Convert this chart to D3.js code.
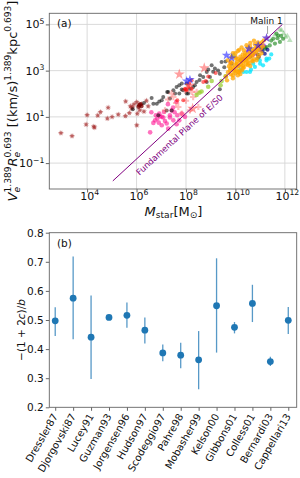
<!DOCTYPE html>
<html><head><meta charset="utf-8">
<script src="https://cdn.jsdelivr.net/npm/d3@7"></script>
<style>html,body{margin:0;padding:0;background:#fff;}svg{display:block;}</style>
</head><body>
<script>
// ---------------- DATA (log10 values for panel a) ----------------
const xTickExp = [4, 6, 8, 10, 12];
const yTickExp = [-1, 1, 3, 5];
const brownStars = [[2.94,0.30],[3.39,0.17],[3.96,0.67],[4.30,0.54],[4.27,0.58],[4.00,1.08],[4.43,1.06],[4.54,1.21],[4.82,0.93],[4.85,1.40],[5.01,1.00],[5.26,1.10],[5.55,1.04],[5.56,1.67],[5.71,1.17],[5.75,1.46],[5.81,1.36],[6.01,1.64],[6.03,1.14],[6.01,0.64],[6.13,1.29],[6.30,1.23],[5.83,1.43],[6.47,1.46],[6.20,1.55],[6.40,1.70],[5.90,1.55]];
const darkRedDots = [[6.11,1.50],[6.15,1.55],[6.20,1.47],[6.08,1.44]];
const pinkDots = [[6.78,1.07],[6.84,0.93],[6.95,1.03],[7.08,0.97],[7.15,0.82],[7.22,0.71],[6.90,0.75],[6.68,0.74],[6.55,0.33],[7.35,1.07],[7.49,0.85],[7.65,1.07],[7.83,1.14],[7.11,1.21],[7.42,1.28],[6.75,0.85],[7.02,0.64],[7.28,0.49],[7.62,0.68],[6.92,1.14],[7.73,0.85],[7.96,1.00],[7.27,1.55],[7.61,1.65],[7.48,1.40],[7.54,1.20],[6.60,1.20],[7.02,1.00],[7.35,0.97]];
const blackDots = [[5.85,1.33],[6.61,1.82],[6.68,1.57],[6.92,1.67],[7.08,1.86],[7.24,2.08],[7.49,2.15],[7.62,2.29],[7.73,2.37],[7.83,2.44],[7.89,2.15],[8.03,2.44],[8.09,2.01],[8.16,2.22],[6.88,1.07],[7.22,1.28],[8.36,2.37],[7.73,2.01],[7.28,2.08],[7.56,2.01],[7.83,2.18],[8.57,2.80],[8.84,2.94],[8.97,2.72],[9.17,3.09],[9.30,3.01],[9.37,2.87],[9.44,3.37],[9.04,3.23],[8.70,2.72],[8.43,2.51],[8.29,2.29],[8.03,2.01],[7.35,1.79],[7.02,1.72],[6.82,1.57],[7.42,1.28],[8.84,2.51],[6.30,1.60],[9.55,3.15],[9.10,2.95],[8.90,3.05],[9.60,3.40],[9.85,3.30],[10.20,3.45],[10.60,3.60],[10.90,3.70],[11.20,4.00],[9.37,2.20],[8.55,2.60]];
const redDots = [[7.96,2.22],[8.00,2.18],[8.70,2.51],[8.80,2.55],[8.13,2.44],[7.89,1.72],[7.65,1.72],[8.23,2.58],[8.03,2.15],[8.09,2.29],[8.23,2.22],[9.80,3.35],[10.40,3.55],[10.70,3.65],[10.90,3.55],[8.90,2.75],[9.20,2.90]];
const redCrosses = [[8.29,1.86],[8.43,2.08],[7.69,1.43],[7.15,1.28],[8.16,1.28],[7.83,1.14],[7.42,2.01],[7.49,1.86],[7.28,1.75],[7.96,2.15],[8.23,2.08],[8.50,1.43],[7.60,1.60],[8.00,1.70]];
const yellowGreenDots = [[8.43,1.95],[8.55,2.05],[8.63,2.10],[9.04,2.55],[9.40,2.37],[9.44,2.55],[8.90,2.30],[9.60,2.75]];
const salmonStars = [[7.73,2.84],[8.74,3.11],[8.27,1.36],[8.15,2.35]];
const blueStars = [[8.16,2.61],[9.64,3.66],[10.92,4.09],[8.03,2.55],[10.55,3.95],[9.85,3.55]];
const malin1 = [[11.26,4.41]];
const cyanDots = [[9.91,3.66],[10.72,3.30],[10.79,3.16],[10.63,3.04],[10.32,2.94],[11.26,3.52],[10.90,3.52],[10.59,2.94],[11.12,3.23],[11.37,3.52],[10.99,3.44],[10.45,2.94],[11.26,3.44],[10.20,3.05],[11.00,3.30],[11.45,3.70]];
const greenDots = [[11.53,4.38],[11.73,4.52],[11.93,4.38],[11.39,4.09],[11.80,4.24],[11.66,4.60],[11.26,4.02],[11.60,4.17],[11.45,4.30],[11.70,4.40],[11.20,3.95],[11.85,4.50]];
const greenTriangles = [[12.20,4.31],[11.87,4.74],[11.80,4.77],[12.03,4.45],[11.95,4.60],[11.60,4.55],[12.10,4.50]];
const navyDots = [[11.06,3.95],[11.19,3.73],[10.95,3.60],[11.10,3.85],[11.30,3.90]];
const purpleDots = [[10.79,3.73],[10.99,3.88],[11.05,4.00],[10.60,3.70],[10.50,3.85],[11.15,4.10],[10.30,3.50]];
const orangeDots = [[9.62,2.75],[9.70,2.93],[9.78,3.01],[9.82,2.84],[9.90,3.14],[9.94,2.97],[9.98,3.23],[10.02,3.06],[10.06,3.36],[10.10,3.19],[10.14,2.93],[10.18,3.44],[10.22,3.27],[10.26,3.53],[10.30,3.36],[10.34,3.14],[10.38,3.62],[10.42,3.44],[10.46,3.70],[10.51,3.53],[10.55,3.32],[10.59,3.79],[10.63,3.62],[10.67,3.88],[10.71,3.70],[10.75,3.49],[10.79,3.96],[10.83,3.79],[10.87,4.05],[10.91,3.88],[10.95,3.66],[10.99,4.14],[11.03,3.96],[11.07,4.22],[11.11,4.05],[9.86,3.36],[10.02,3.53],[9.74,3.19],[10.34,3.88],[10.59,4.05],[10.79,4.14],[10.18,3.01],[10.42,3.27],[10.67,3.44],[10.91,4.22],[11.15,4.31],[9.66,2.58],[9.90,2.67],[10.10,2.80],[10.26,3.01],[9.80,3.10],[9.95,3.05],[10.05,3.30],[10.15,3.20],[10.25,3.40],[10.35,3.45],[10.45,3.55],[10.55,3.60],[10.65,3.75],[10.75,3.85],[10.85,3.95],[10.95,4.05],[10.10,3.50],[10.40,3.75],[10.60,3.95],[10.00,2.90],[10.30,3.20],[10.50,3.40],
  [9.70,3.45],[9.85,3.60],[10.00,3.75],[10.15,3.90],[10.25,4.00],[10.45,4.10],[10.60,4.20],[10.75,4.30],[9.90,3.75],[10.10,3.85],[10.30,3.70],[10.50,4.00],[10.00,3.60],[9.80,3.30],[10.20,3.60],
  [9.90,2.80],[10.10,2.95],[10.30,3.10],[10.50,3.25],[10.70,3.40],[10.90,3.55],[11.05,3.75],[10.20,2.85],[10.60,3.20],[10.85,3.45]];
const fpLine = [[5.04,-1.77],[11.9,5.0]];

// ---------------- DATA panel b ----------------
const studies = ["Dressler87","Djorgovski87","Lucey91","Guzman93","Jorgensen96","Hudson97","Scodeggio97","Pahre98","Mobasher99","Kelson00","Gibbons01","Colless01","Bernardi03","Cappellari13"];
const ratio     = [0.497,0.575,0.441,0.509,0.516,0.465,0.387,0.379,0.363,0.549,0.475,0.557,0.357,0.499];
const ratioLow  = [0.445,0.434,0.297,0.504,0.473,0.419,0.358,0.334,0.262,0.388,0.454,0.493,0.342,0.452];
const ratioHigh = [0.544,0.718,0.584,0.514,0.560,0.509,0.416,0.422,0.462,0.712,0.493,0.621,0.374,0.545];
const yTicksB = [0.2,0.3,0.4,0.5,0.6,0.7,0.8];

// ---------------- DRAW ----------------
const FONT = "'DejaVu Sans', sans-serif";
const svg = d3.select("body").append("svg").attr("width",300).attr("height",478)
  .style("font-family", FONT);
const A = {l:49.3, r:296.7, t:13.3, b:189};
const B = {l:49.3, r:296.7, t:232.7, b:407.3};
const SPINE = "#666";

const xA = d3.scaleLog().domain([10**2.47, 10**12.48]).range([A.l, A.r]);
const yA = d3.scaleLog().domain([10**-2.12, 10**5.48]).range([A.b, A.t]);
const px = d => xA(10**d[0]), py = d => yA(10**d[1]);

svg.append("clipPath").attr("id","clipA").append("rect")
  .attr("x",A.l).attr("y",A.t).attr("width",A.r-A.l).attr("height",A.b-A.t);

// grid
const gA = svg.append("g");
gA.selectAll(".gx").data(xTickExp).join("line")
  .attr("x1",e=>xA(10**e)).attr("x2",e=>xA(10**e)).attr("y1",A.t).attr("y2",A.b)
  .attr("stroke","#d6d6d6").attr("stroke-width",0.9);
gA.selectAll(".gy").data(yTickExp).join("line")
  .attr("y1",e=>yA(10**e)).attr("y2",e=>yA(10**e)).attr("x1",A.l).attr("x2",A.r)
  .attr("stroke","#d6d6d6").attr("stroke-width",0.9);

const plotA = svg.append("g").attr("clip-path","url(#clipA)");
function dots(data, fill, op, r){
  plotA.append("g").selectAll("circle").data(data).join("circle")
    .attr("cx",px).attr("cy",py).attr("r",r).attr("fill",fill).attr("fill-opacity",op);
}
function syms(data, type, size, fill, op, rot){
  const s = d3.symbol().type(type).size(size);
  plotA.append("g").selectAll("path").data(data).join("path")
    .attr("d", s).attr("transform", d=>`translate(${px(d)},${py(d)}) rotate(${rot||0})`)
    .attr("fill",fill).attr("fill-opacity",op);
}
syms(brownStars, d3.symbolStar, 11, "#a52a2a", 0.6, 0);
syms(brownStars, d3.symbolStar, 11, "#a52a2a", 0.35, 36);
dots(darkRedDots, "#7a0000", 0.75, 2.2);
dots(pinkDots, "#ff1493", 0.6, 2.3);
dots(blackDots, "#000", 0.55, 2.0);
syms(redCrosses, d3.symbolCross, 22, "#ff5a5a", 0.4, 0);
dots(redDots, "#ff0000", 0.55, 2.0);
dots(yellowGreenDots, "#9acd32", 0.75, 2.3);
dots(cyanDots, "#00e5ff", 0.75, 2.1);
dots(greenDots, "#228b22", 0.65, 2.1);
syms(greenTriangles, d3.symbolTriangle, 14, "#2ca02c", 0.3, 0);
dots(navyDots, "#000080", 0.7, 2.0);
dots(purpleDots, "#9400d3", 0.6, 2.0);
dots(orangeDots, "#ffa500", 0.75, 2.2);
syms(salmonStars, d3.symbolStar, 38, "#ff4040", 0.5, 0);
syms(blueStars, d3.symbolStar, 28, "#1f1fff", 0.6, 0);
syms(malin1, d3.symbolStar, 28, "#5a2bd0", 0.8, 0);

// fundamental plane line
plotA.append("line")
  .attr("x1",px(fpLine[0])).attr("y1",py(fpLine[0])).attr("x2",px(fpLine[1])).attr("y2",py(fpLine[1]))
  .attr("stroke","#800080").attr("stroke-width",1);
const ang = Math.atan2(py(fpLine[1])-py(fpLine[0]), px(fpLine[1])-px(fpLine[0]))*180/Math.PI;
const tMx = 7.41, tMy = fpLine[0][1] + (tMx-fpLine[0][0])*(fpLine[1][1]-fpLine[0][1])/(fpLine[1][0]-fpLine[0][0]);
svg.append("text").attr("transform",`translate(${xA(10**tMx)+8},${yA(10**tMy)+8}) rotate(${ang})`)
  .attr("text-anchor","middle").attr("dy","0.35em").attr("font-size",8.5).attr("fill","#800080")
  .text("Fundamental Plane of E/S0");

// Malin 1 annotation
const mx = px(malin1[0]), my = py(malin1[0]);
svg.append("line").attr("x1",mx+1).attr("x2",mx+1).attr("y1",my-4).attr("y2",my-12)
  .attr("stroke","#888").attr("stroke-width",0.8);
svg.append("text").attr("x",mx).attr("y",my-14).attr("text-anchor","middle")
  .attr("font-size",9).attr("fill","#111").text("Malin 1");

// frame A
svg.append("rect").attr("x",A.l).attr("y",A.t).attr("width",A.r-A.l).attr("height",A.b-A.t)
  .attr("fill","none").attr("stroke",SPINE).attr("stroke-width",0.9);

// axes A
const axXA = svg.append("g").attr("transform",`translate(0,${A.b})`)
  .call(d3.axisBottom(xA).tickValues(xTickExp.map(e=>10**e)).tickSize(3.5).tickFormat(""));
const axYA = svg.append("g").attr("transform",`translate(${A.l},0)`)
  .call(d3.axisLeft(yA).tickValues(yTickExp.map(e=>10**e)).tickSize(3.5).tickFormat(""));
[axXA, axYA].forEach(g=>{g.select(".domain").remove(); g.selectAll("line").attr("stroke",SPINE);});

function pow10Label(g, x, y, e, anchor){
  const t = g.append("text").attr("x",x).attr("y",y).attr("text-anchor",anchor)
    .attr("font-size",11).attr("fill","#111");
  t.append("tspan").text("10");
  t.append("tspan").attr("font-size",7.7).attr("dy",-4.6).text(e<0 ? "\u2212"+(-e) : ""+e);
}
xTickExp.forEach(e=>pow10Label(svg, xA(10**e)+2.5, A.b+11, e, "middle"));
yTickExp.forEach(e=>pow10Label(svg, A.l-5, yA(10**e)+4, e, "end"));

// rich text helper
function rich(g, segs, size, transform){
  const t = g.append("text").attr("transform",transform).attr("text-anchor","middle")
    .attr("font-size",size).attr("fill","#111");
  let cur = 0, prevW = 0;
  segs.forEach(s=>{
    const sh = s.shift||0;
    const ts = t.append("tspan").text(s.t).attr("font-size", s.size||size).attr("dy", sh-cur);
    if (s.it) ts.attr("font-style","italic");
    if (s.back) ts.attr("dx", -prevW);
    cur = sh;
    prevW = ts.node().getComputedTextLength();
  });
  return t;
}
const ss = 9.1;
rich(svg, [
  {t:"V", it:true},
  {t:"e", it:true, size:ss, shift:2.8},
  {t:"1.389", size:ss, shift:-5.6, back:true},
  {t:"R", it:true},
  {t:"e", it:true, size:ss, shift:2.8},
  {t:"0.693", size:ss, shift:-5.6, back:true},
  {t:" [(km/s)"},
  {t:"1.389", size:ss, shift:-5.6},
  {t:"kpc"},
  {t:"0.693", size:ss, shift:-5.6},
  {t:"]"}
], 13, `translate(17,101) rotate(-90)`);

rich(svg, [
  {t:"M", it:true},
  {t:"star", size:ss, shift:2.8},
  {t:"[M"},
  {t:"\u2299", size:ss, shift:2.8},
  {t:"]"}
], 13, `translate(173.5,215.5)`);

svg.append("text").attr("x",57).attr("y",27).attr("font-size",10.5).attr("fill","#111").text("(a)");

// ---------------- Panel B ----------------
const xB = d3.scaleLinear().domain([-0.33, 13.47]).range([B.l, B.r]);
const yB = d3.scaleLinear().domain([0.2, 0.8]).range([B.b, B.t]);
const gB = svg.append("g");
gB.selectAll(".err").data(studies).join("line")
  .attr("x1",(d,i)=>xB(i)).attr("x2",(d,i)=>xB(i))
  .attr("y1",(d,i)=>yB(ratioLow[i])).attr("y2",(d,i)=>yB(ratioHigh[i]))
  .attr("stroke","#1f77b4").attr("stroke-opacity",0.75).attr("stroke-width",1.3);
gB.selectAll(".pt").data(studies).join("circle")
  .attr("cx",(d,i)=>xB(i)).attr("cy",(d,i)=>yB(ratio[i])).attr("r",3.4).attr("fill","#1f77b4");

svg.append("rect").attr("x",B.l).attr("y",B.t).attr("width",B.r-B.l).attr("height",B.b-B.t)
  .attr("fill","none").attr("stroke",SPINE).attr("stroke-width",0.9);

const axYB = svg.append("g").attr("transform",`translate(${B.l},0)`)
  .call(d3.axisLeft(yB).tickValues(yTicksB).tickSize(3.5).tickFormat(d3.format(".1f")));
const axXB = svg.append("g").attr("transform",`translate(0,${B.b})`)
  .call(d3.axisBottom(xB).tickValues(d3.range(studies.length)).tickSize(3.5).tickFormat(""));
[axXB, axYB].forEach(g=>{g.select(".domain").remove(); g.selectAll("line").attr("stroke",SPINE);});
axYB.selectAll("text").attr("font-size",10.5).attr("font-family",FONT).attr("fill","#111").attr("x",-5.5);

svg.append("g").selectAll("text").data(studies).join("text")
  .attr("transform",(d,i)=>`translate(${xB(i)+3},${B.b+9}) rotate(-60)`)
  .attr("text-anchor","end").attr("font-size",10).attr("fill","#111").text(d=>d);

rich(svg, [
  {t:"\u2212(1 + 2"},
  {t:"c", it:true},
  {t:")/"},
  {t:"b", it:true}
], 10.5, `translate(25,330) rotate(-90)`);

svg.append("text").attr("x",57).attr("y",247).attr("font-size",10.5).attr("fill","#111").text("(b)");
</script>
</body></html>
